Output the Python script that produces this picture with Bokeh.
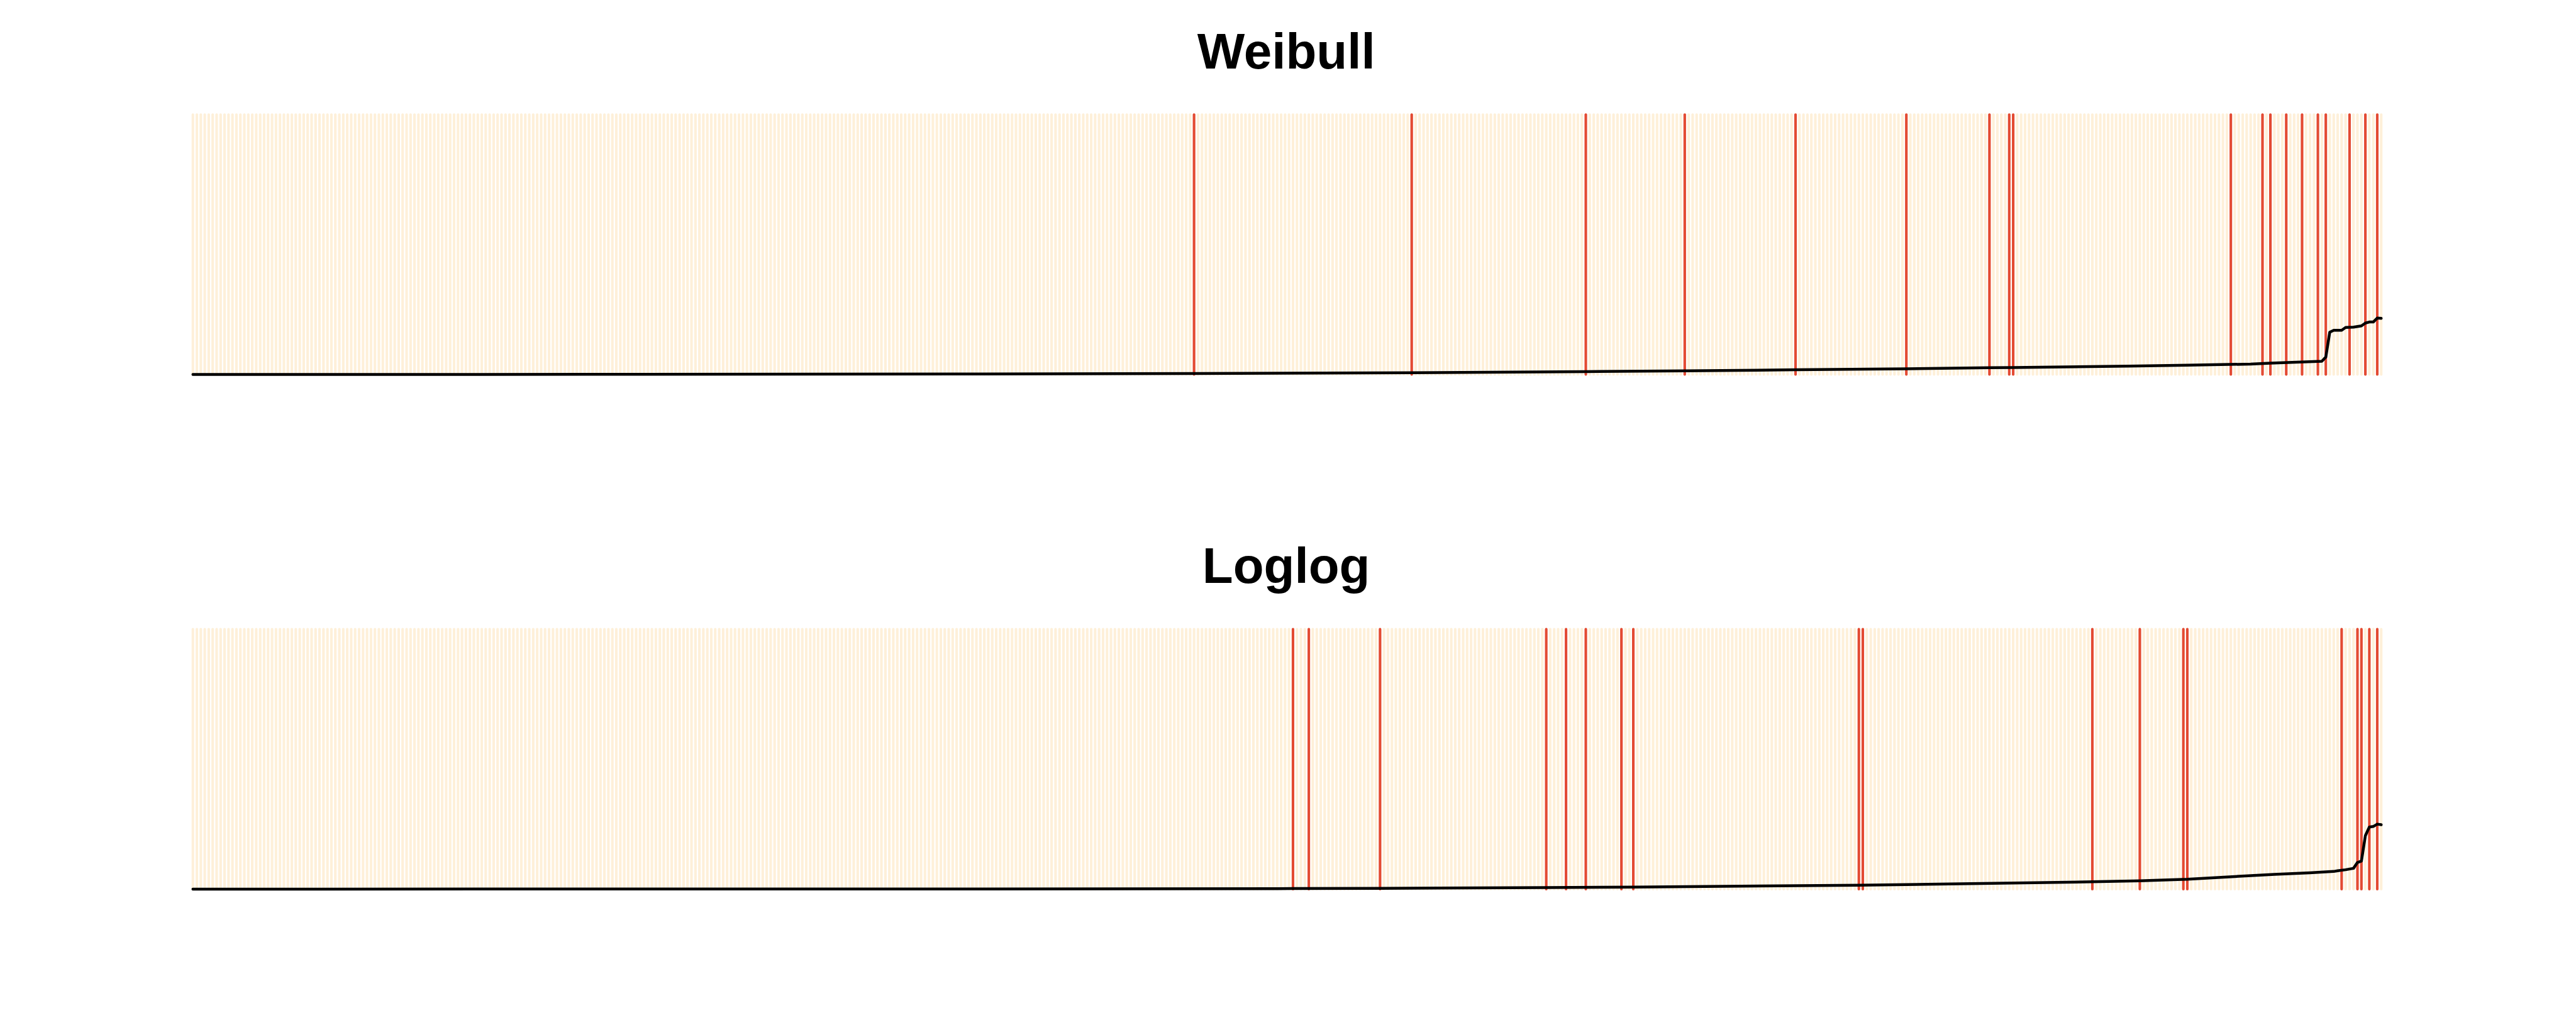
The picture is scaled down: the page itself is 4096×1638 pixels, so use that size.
from bokeh.plotting import figure
from bokeh.layouts import column
from bokeh.models import Label, Range1d
from bokeh.embed import file_html
from bokeh.resources import INLINE

# ---------------- data ----------------
titles = ["Weibull", "Loglog"]
n_obs = 554
obs_index = list(range(1, n_obs + 1))

weibull_events = [254, 309, 353, 378, 406, 434, 455, 460, 461, 516, 524, 526,
                  530, 534, 538, 540, 546, 550, 553]
loglog_events = [279, 283, 301, 343, 348, 353, 362, 365, 422, 423, 481, 493,
                 504, 505, 544, 548, 549, 551, 553]

weibull_curve_x = [1, 100, 200, 254, 309, 353, 378, 406, 434, 455, 461, 490,
                   505, 521, 526, 539, 540, 541, 542, 544, 545, 547, 549, 550,
                   551, 552, 553, 554]
weibull_curve_y = [0.0, 0.0005, 0.002, 0.004, 0.007, 0.011, 0.014, 0.018, 0.022,
                   0.026, 0.027, 0.032, 0.036, 0.040, 0.0435, 0.051, 0.067, 0.163,
                   0.170, 0.170, 0.181, 0.182, 0.187, 0.198, 0.202, 0.202, 0.217,
                   0.216]

loglog_curve_x = [1, 200, 279, 301, 343, 365, 422, 481, 493, 505, 527, 536, 542,
                  543, 545, 547, 548, 549, 550, 551, 552, 553, 554]
loglog_curve_y = [0.0, 0.0005, 0.002, 0.003, 0.006, 0.008, 0.015, 0.028, 0.032,
                  0.038, 0.057, 0.0627, 0.068, 0.0708, 0.0746, 0.080, 0.1025,
                  0.108, 0.2056, 0.239, 0.241, 0.250, 0.2477]

# ---------------- layout (reference pixel geometry) ----------------
S = 0.682            # scale from reference to output
X1_REF = 449.0       # ref x of observation 1
DX_REF = 9.226       # ref px per observation
Y0_REF = 872.5       # ref y of value 0 in panel 1
UNIT_REF = 606.0     # ref px per unit of y
PANEL_REF = 1200.0   # ref height of one panel
TITLE_X_REF = 2998.0
TITLE_MID_REF = 118.2

W = 4090
HEIGHTS = [818, 818]
TOPS = [0, HEIGHTS[0]]

PALE = "#FEF0D9"
RED = "#E34A33"


def xdata(ref_x):
    return 1 + (ref_x - X1_REF) / DX_REF


def make_panel(k, events, cx, cy):
    off = k * PANEL_REF
    top, h = TOPS[k], HEIGHTS[k]

    def ydata(ref_y):
        return (Y0_REF + off - ref_y) / UNIT_REF

    xr = Range1d(xdata(0), xdata(W / S))
    yr = Range1d(ydata((top + h) / S), ydata(top / S))
    p = figure(width=W, height=h, x_range=xr, y_range=yr,
               output_backend="svg", toolbar_location=None,
               min_border=0, min_border_left=0, min_border_right=0,
               min_border_top=0, min_border_bottom=0)
    p.axis.visible = False
    p.grid.visible = False
    p.outline_line_color = None
    p.background_fill_color = "white"
    p.border_fill_color = "white"

    p.segment(x0=obs_index, y0=0, x1=obs_index, y1=1, line_color=PALE,
              line_width=4.1, line_cap="round")
    p.segment(x0=events, y0=0, x1=events, y1=1, line_color=RED,
              line_width=4.1, line_cap="round")
    p.line(cx, cy, line_color="black", line_width=4.5, line_join="round",
           line_cap="round")

    lab = Label(x=xdata(TITLE_X_REF), y=ydata(TITLE_MID_REF + off),
                text=titles[k], text_align="center", text_baseline="middle",
                text_font="Liberation Sans", text_font_style="bold",
                text_font_size="80px", text_color="black")
    p.add_layout(lab)
    return p


p1 = make_panel(0, weibull_events, weibull_curve_x, weibull_curve_y)
p2 = make_panel(1, loglog_events, loglog_curve_x, loglog_curve_y)

layout = column(p1, p2, spacing=0)
open("out.html", "w").write(file_html(layout, INLINE))
